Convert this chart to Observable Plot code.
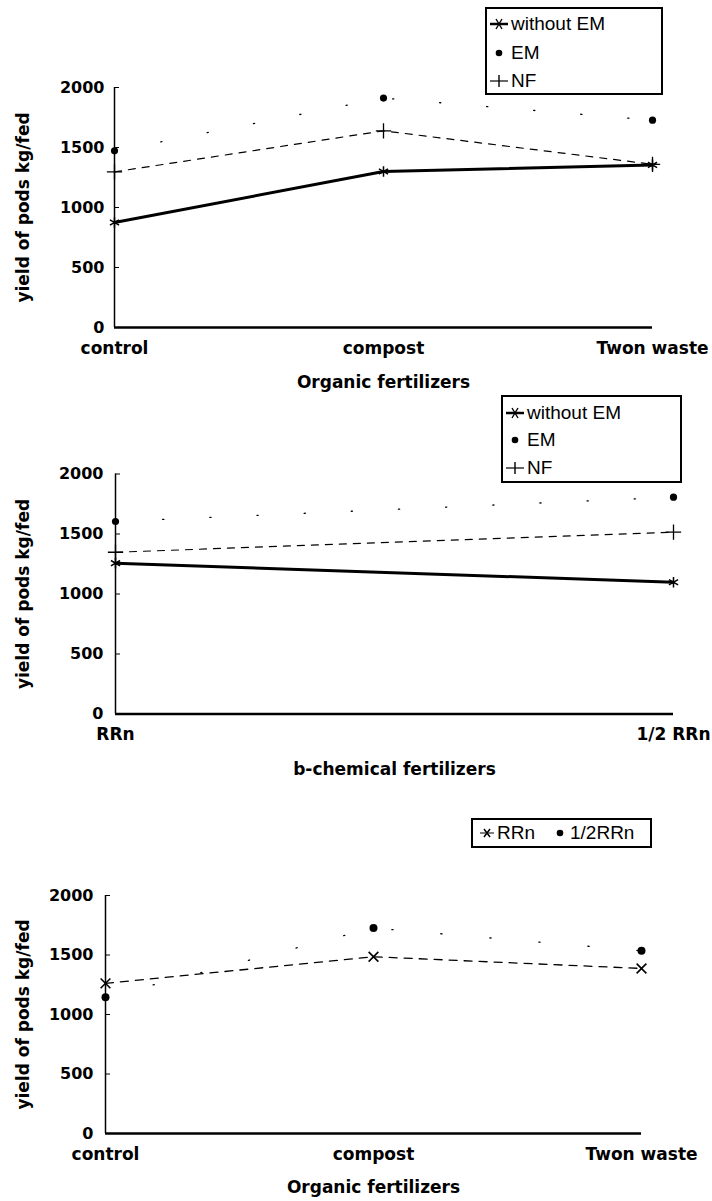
<!DOCTYPE html>
<html><head><meta charset="utf-8">
<script src="https://cdn.jsdelivr.net/npm/d3@7"></script>
<script src="https://cdn.jsdelivr.net/npm/@observablehq/plot@0.6"></script>
<style>
body{margin:0;background:#fff;}
#page{position:relative;width:712px;height:1201px;overflow:hidden;background:#fff;}
.panel{position:absolute;left:0;}
.legend{position:absolute;border:2px solid #000;background:#fff;font-family:"Liberation Sans",Arial,sans-serif;font-size:19px;color:#000;box-sizing:border-box;}
.item{position:absolute;display:flex;align-items:center;height:22px;line-height:22px;white-space:nowrap;}
.item svg{display:block;}
</style></head><body><div id="page"></div>
<script>
// ---- data ----
const yTicks = [0, 500, 1000, 1500, 2000];
const yTitle = "yield of pods kg/fed";

const organicCategories = ["control", "compost", "Twon waste"];
const organicWithoutEM = [875, 1300, 1355];
const organicEM = [1472, 1912, 1728];
const organicNF = [1297, 1639, 1360];
const organicTitle = "Organic fertilizers";

const chemicalCategories = ["RRn", "1/2 RRn"];
const chemicalWithoutEM = [1257, 1098];
const chemicalEM = [1604, 1807];
const chemicalNF = [1348, 1515];
const chemicalTitle = "b-chemical fertilizers";

const mixCategories = ["control", "compost", "Twon waste"];
const mixRRn = [1262, 1485, 1387];
const mixHalfRRn = [1145, 1727, 1535];

const legend1Labels = ["without EM", "EM", "NF"];
const legend3Labels = ["RRn", "1/2RRn"];

// ---- styles per series ----
const styleWithout = {line: {strokeWidth: 3}, dot: {symbol: "asterisk", r: 5, stroke: "#000", strokeWidth: 1.5, fill: "none"}};
const styleEM = {line: {strokeWidth: 1.3, strokeDasharray: "1.2,46"}, dot: {symbol: "circle", r: 3.6, fill: "#000", stroke: "none"}};
const styleNF = {line: {strokeWidth: 1.2, strokeDasharray: "7,7"}, dot: {symbol: "plus", r: 5, stroke: "#000", strokeWidth: 1.3, fill: "none"}};
const styleRRn = {line: {strokeWidth: 1.3, strokeDasharray: "8,7"}, dot: {symbol: "times", r: 4.5, stroke: "#000", strokeWidth: 1.6, fill: "none"}};
const styleHalf = {line: {strokeWidth: 1.3, strokeDasharray: "1.2,48"}, dot: {symbol: "circle", r: 4, fill: "#000", stroke: "none"}};

function rows(categories, values) {
  return categories.map((c, i) => ({category: c, value: values[i]}));
}

const page = document.getElementById("page");

function makePanel(cfg) {
  const cats = cfg.categories;
  const first = cats[0], last = cats[cats.length - 1];
  const marks = [
    Plot.ruleX([first], {x: d => d, y1: 0, y2: 2000, stroke: "#000", strokeWidth: 1.5}),
    Plot.ruleY([0], {y: d => d, x1: () => first, x2: () => last, stroke: "#000", strokeWidth: 2.5}),
    Plot.ruleY(yTicks.slice(1), {y: d => d, x1: () => first, x2: () => first, insetRight: -5, stroke: "#000", strokeWidth: 1}),
    Plot.axisY(yTicks, {tickSize: 0, tickPadding: cfg.yPad, tickFormat: d => String(d), label: null, fontSize: 16, fontWeight: "bold"}),
    Plot.axisX({tickSize: 0, tickPadding: 14, label: null, fontSize: 17, fontWeight: "bold"}),
    Plot.text([yTitle], {frameAnchor: "left", rotate: -90, dx: -(cfg.marginLeft - 23), fontSize: 17, fontWeight: "bold", textAnchor: "middle", lineAnchor: "middle"}),
    Plot.text([cfg.xTitle], {frameAnchor: "bottom", dy: cfg.xTitleDy, fontSize: 17, fontWeight: "bold", lineAnchor: "middle"})
  ];
  for (const s of cfg.series) {
    const data = rows(cats, s.values);
    marks.push(Plot.line(data, {x: "category", y: "value", stroke: "#000", ...s.style.line}));
    marks.push(Plot.dot(data, {x: "category", y: "value", ...s.style.dot}));
  }
  const svg = Plot.plot({
    width: 712,
    height: cfg.height,
    marginTop: cfg.marginTop,
    marginBottom: cfg.marginBottom,
    marginLeft: cfg.marginLeft,
    marginRight: cfg.marginRight,
    x: {type: "point", domain: cats, padding: 0},
    y: {domain: [0, 2000]},
    style: {fontFamily: "'DejaVu Sans', sans-serif", color: "#000", background: "transparent", overflow: "visible"},
    marks
  });
  svg.classList.add("panel");
  svg.style.top = cfg.top + "px";
  page.appendChild(svg);
}

makePanel({
  categories: organicCategories, top: 0, height: 400,
  marginTop: 87, marginBottom: 73, marginLeft: 114, marginRight: 60, yPad: 10,
  xTitle: organicTitle, xTitleDy: 55,
  series: [
    {values: organicNF, style: styleNF},
    {values: organicEM, style: styleEM},
    {values: organicWithoutEM, style: styleWithout}
  ]
});
makePanel({
  categories: chemicalCategories, top: 400, height: 400,
  marginTop: 73.5, marginBottom: 86.5, marginLeft: 115, marginRight: 39, yPad: 12,
  xTitle: chemicalTitle, xTitleDy: 56,
  series: [
    {values: chemicalNF, style: styleNF},
    {values: chemicalEM, style: styleEM},
    {values: chemicalWithoutEM, style: styleWithout}
  ]
});
makePanel({
  categories: mixCategories, top: 800, height: 401,
  marginTop: 95, marginBottom: 68, marginLeft: 105, marginRight: 71, yPad: 12,
  xTitle: organicTitle, xTitleDy: 54,
  series: [
    {values: mixRRn, style: styleRRn},
    {values: mixHalfRRn, style: styleHalf}
  ]
});

// ---- legends ----
const mk = {
  without: '<svg width="20" height="14"><line x1="1" y1="7" x2="19" y2="7" stroke="#000" stroke-width="2.5"/><path d="M7 2L13 12M13 2L7 12M5 7H15" stroke="#000" stroke-width="1.4"/></svg>',
  em: '<svg width="20" height="14"><circle cx="10" cy="7" r="3.3" fill="#000"/></svg>',
  nf: '<svg width="20" height="14"><line x1="1" y1="7" x2="19" y2="7" stroke="#000" stroke-width="1.2"/><path d="M10 1V13" stroke="#000" stroke-width="1.4"/></svg>',
  times: '<svg width="16" height="14"><line x1="1" y1="7" x2="15" y2="7" stroke="#000" stroke-width="1"/><path d="M5 3L11 11M11 3L5 11" stroke="#000" stroke-width="1.5"/></svg>',
  dot: '<svg width="14" height="14"><circle cx="7" cy="7" r="3.3" fill="#000"/></svg>'
};
function legend(box, items) {
  const d = document.createElement("div");
  d.className = "legend";
  Object.assign(d.style, {left: box[0] + "px", top: box[1] + "px", width: box[2] + "px", height: box[3] + "px"});
  for (const it of items) {
    const e = document.createElement("div");
    e.className = "item";
    e.style.left = it.x + "px";
    e.style.top = (it.y - 11) + "px";
    e.innerHTML = it.marker + '<span style="margin-left:' + (it.gap || 2) + 'px">' + it.text + '</span>';
    d.appendChild(e);
  }
  page.appendChild(d);
}
legend([485, 7, 178, 88], [
  {x: 2, y: 15, marker: mk.without, text: legend1Labels[0]},
  {x: 2, y: 44, marker: mk.em, text: legend1Labels[1]},
  {x: 2, y: 72, marker: mk.nf, text: legend1Labels[2]}
]);
legend([501, 395, 181, 88], [
  {x: 2, y: 16, marker: mk.without, text: legend1Labels[0]},
  {x: 2, y: 43, marker: mk.em, text: legend1Labels[1]},
  {x: 2, y: 71, marker: mk.nf, text: legend1Labels[2]}
]);
legend([471, 818, 181, 30], [
  {x: 6, y: 13, marker: mk.times, text: legend3Labels[0]},
  {x: 80, y: 13, marker: mk.dot, text: legend3Labels[1], gap: 3}
]);
</script></body></html>
